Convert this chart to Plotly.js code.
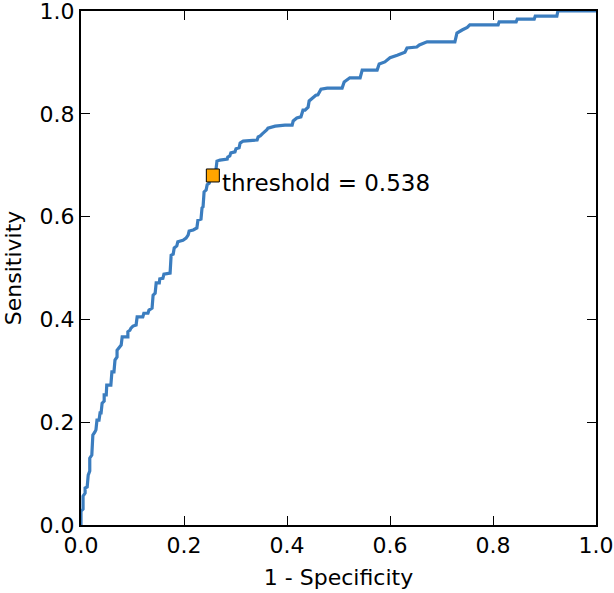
<!DOCTYPE html>
<html>
<head>
<meta charset="utf-8">
<script src="https://cdn.plot.ly/plotly-3.0.1.min.js"></script>
<style>html,body{margin:0;padding:0;background:#fff;}#chart{width:614px;height:593px;}</style>
</head>
<body>
<div id="chart"></div>
<script>
var fpr = [0,0,0.004,0.004,0.008,0.008,0.012,0.014,0.017,0.017,0.021,0.023,0.027,0.029,0.031,0.035,0.037,0.039,0.041,0.045,0.045,0.049,0.050,0.058,0.060,0.064,0.066,0.070,0.070,0.074,0.078,0.080,0.091,0.091,0.095,0.097,0.101,0.107,0.109,0.120,0.122,0.130,0.132,0.138,0.140,0.144,0.146,0.152,0.153,0.159,0.161,0.173,0.175,0.179,0.181,0.186,0.188,0.198,0.204,0.208,0.210,0.218,0.225,0.227,0.233,0.235,0.237,0.239,0.243,0.245,0.249,0.250,0.256,0.258,0.262,0.264,0.270,0.284,0.285,0.289,0.291,0.299,0.301,0.307,0.309,0.315,0.342,0.344,0.348,0.352,0.357,0.361,0.363,0.371,0.377,0.396,0.410,0.412,0.419,0.427,0.431,0.435,0.441,0.443,0.451,0.456,0.460,0.466,0.478,0.507,0.511,0.517,0.522,0.542,0.546,0.575,0.579,0.590,0.600,0.614,0.629,0.633,0.652,0.657,0.672,0.726,0.730,0.740,0.750,0.755,0.810,0.812,0.845,0.847,0.880,0.882,0.924,0.926,1.0];
var tpr = [0,0.027,0.031,0.056,0.062,0.072,0.074,0.097,0.105,0.130,0.136,0.175,0.181,0.185,0.204,0.204,0.218,0.218,0.237,0.241,0.253,0.253,0.272,0.272,0.298,0.298,0.321,0.327,0.340,0.346,0.350,0.366,0.366,0.376,0.379,0.383,0.387,0.389,0.405,0.405,0.412,0.412,0.418,0.422,0.447,0.451,0.471,0.471,0.479,0.480,0.488,0.490,0.525,0.527,0.539,0.543,0.551,0.554,0.558,0.564,0.572,0.574,0.578,0.593,0.595,0.617,0.619,0.648,0.652,0.662,0.665,0.675,0.680,0.687,0.691,0.708,0.710,0.712,0.716,0.718,0.724,0.726,0.732,0.734,0.743,0.747,0.749,0.755,0.757,0.761,0.765,0.769,0.772,0.774,0.776,0.778,0.778,0.786,0.792,0.794,0.807,0.807,0.813,0.825,0.831,0.836,0.837,0.848,0.850,0.850,0.862,0.866,0.870,0.870,0.885,0.885,0.897,0.901,0.909,0.914,0.920,0.928,0.930,0.934,0.940,0.940,0.957,0.963,0.968,0.973,0.973,0.979,0.979,0.984,0.984,0.990,0.990,1.0,1.0];
var thresholdX = [0.256];
var thresholdY = [0.680];
var thresholdLabel = "threshold = 0.538";
var tickVals = [0,0.2,0.4,0.6,0.8,1.0];
var tickText = ["0.0","0.2","0.4","0.6","0.8","1.0"];

var font = "DejaVu Sans, sans-serif";
var axisCommon = {
  range: [0,1], autorange: false, showgrid: false, zeroline: false,
  showline: true, linecolor: "#000", linewidth: 2, mirror: "ticks",
  ticks: "inside", ticklen: 9, tickwidth: 1, tickcolor: "#000",
  tickvals: tickVals, ticktext: tickText, ticklabeloverflow: "allow",
  tickfont: {family: font, size: 22, color: "#000"}
};
var layout = {
  width: 614, height: 593,
  margin: {l: 81, r: 18, t: 11, b: 68, pad: 0},
  paper_bgcolor: "#fff", plot_bgcolor: "#fff",
  showlegend: false,
  xaxis: Object.assign({}, axisCommon, {title: {text: "1 - Specificity", font: {family: font, size: 22, color: "#000"}, standoff: 12}}),
  yaxis: Object.assign({}, axisCommon, {title: {text: "Sensitivity", font: {family: font, size: 22, color: "#000"}, standoff: 12}}),
  annotations: [{
    x: thresholdX[0], y: thresholdY[0], xref: "x", yref: "y",
    text: thresholdLabel, showarrow: false, xanchor: "left", yanchor: "middle",
    xshift: 7, yshift: -8, font: {family: font, size: 23, color: "#000"}
  }]
};
var data = [
  {x: fpr, y: tpr, type: "scatter", mode: "lines", line: {color: "#3b7dbf", width: 3.2}, hoverinfo: "none"},
  {x: thresholdX, y: thresholdY, type: "scatter", mode: "markers",
   marker: {symbol: "square", size: 13, color: "#ffa500", line: {color: "#000", width: 1}}, hoverinfo: "none"}
];
Plotly.newPlot("chart", data, layout, {staticPlot: true, displayModeBar: false});
</script>
</body>
</html>
